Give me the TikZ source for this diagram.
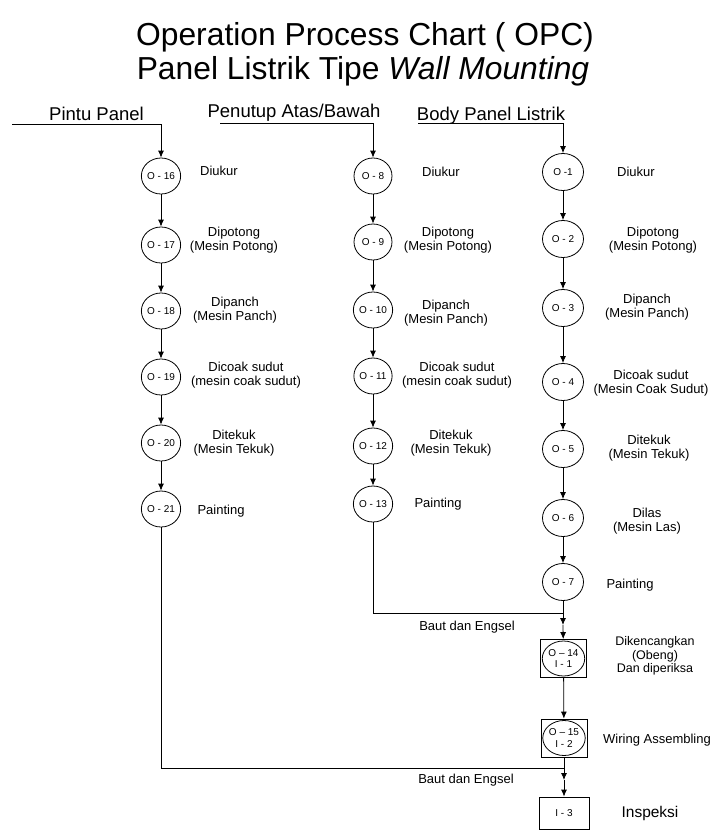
\documentclass[tikz,border=0pt]{standalone}
\usepackage{fontspec}
\setmainfont{Liberation Sans}
\usetikzlibrary{shapes.geometric,arrows.meta}
\tikzset{
  opA/.style={ellipse, draw, line width=0.8pt, minimum width=38pt, minimum height=36pt, inner sep=0pt, font=\fontsize{10}{11}\selectfont},
  opC/.style={ellipse, draw, line width=0.8pt, minimum width=41pt, minimum height=37pt, inner sep=0pt, font=\fontsize{10}{11}\selectfont},
  lbl/.style={align=center, inner sep=0pt, font=\fontsize{13}{14}\selectfont},
  hdr/.style={anchor=base, inner sep=0pt, font=\fontsize{18.5}{20}\selectfont},
  ttl/.style={anchor=base, inner sep=0pt, font=\fontsize{31.8}{34}\selectfont},
  arr/.style={line width=0.8pt, -{Latex[length=7pt,width=6pt]}},
  ln/.style={line width=0.8pt},
  sq/.style={rectangle, draw, line width=0.8pt, minimum width=46pt, minimum height=38pt, inner sep=0pt},
  inell/.style={ellipse, draw, line width=0.8pt, minimum width=41pt, minimum height=35pt, inner sep=0pt, align=center, font=\fontsize{10}{12}\selectfont}
}
\begin{document}
\begin{tikzpicture}[x=1pt,y=-1pt]
\useasboundingbox (0,0) rectangle (711,830);
% title
\node[ttl] (t1) at (365,45) {Operation Process Chart ( OPC)};
\node[ttl] (t2) at (363,79) {Panel Listrik Tipe \textit{Wall Mounting}};
% headers
\node[hdr] (h1) at (96.5,120) {Pintu Panel};
\node[hdr] (h2) at (294,117) {Penutup Atas/Bawah};
\node[hdr] (h3) at (491,120.5) {Body Panel Listrik};
\coordinate (s1) at (12,124);
\coordinate (s2) at (220,123);
\coordinate (s3) at (418,123);
% column 1
\node[opA] (o16) at (161,176) {O - 16};
\node[opA] (o17) at (161,245) {O - 17};
\node[opA] (o18) at (161,311) {O - 18};
\node[opA] (o19) at (161,377) {O - 19};
\node[opA] (o20) at (161,443) {O - 20};
\node[opA] (o21) at (161,509) {O - 21};
\node[lbl] (l16) at (219,171) {Diukur};
\node[lbl] (l17) at (234,240) {Dipotong\\(Mesin Potong)};
\node[lbl] (l18) at (235,310) {Dipanch\\(Mesin Panch)};
\node[lbl] (l19) at (246,375) {Dicoak sudut\\(mesin coak sudut)};
\node[lbl] (l20) at (234,443) {Ditekuk\\(Mesin Tekuk)};
\node[lbl] (l21) at (221,511) {Painting};
% column 2
\node[opA] (o8) at (373,176) {O - 8};
\node[opA] (o9) at (373,242) {O - 9};
\node[opA] (o10) at (373,310) {O - 10};
\node[opA] (o11) at (373,376) {O - 11};
\node[opA] (o12) at (373,446) {O - 12};
\node[opA] (o13) at (373,504) {O - 13};
\node[lbl] (l8) at (441,172) {Diukur};
\node[lbl] (l9) at (448,240) {Dipotong\\(Mesin Potong)};
\node[lbl] (l10) at (446,313) {Dipanch\\(Mesin Panch)};
\node[lbl] (l11) at (457,375) {Dicoak sudut\\(mesin coak sudut)};
\node[lbl] (l12) at (451,443) {Ditekuk\\(Mesin Tekuk)};
\node[lbl] (l13) at (438,504) {Painting};
% column 3
\node[opC] (o1) at (563,172) {O -1};
\node[opC] (o2) at (563,239) {O - 2};
\node[opC] (o3) at (563,308) {O - 3};
\node[opC] (o4) at (563,382) {O - 4};
\node[opC] (o5) at (563,449) {O - 5};
\node[opC] (o6) at (563,518) {O - 6};
\node[opC] (o7) at (563,582) {O - 7};
\node[lbl] (l1) at (636,172) {Diukur};
\node[lbl] (l2) at (653,240) {Dipotong\\(Mesin Potong)};
\node[lbl] (l3) at (647,307) {Dipanch\\(Mesin Panch)};
\node[lbl] (l4) at (651,383) {Dicoak sudut\\(Mesin Coak Sudut)};
\node[lbl] (l5) at (649,448) {Ditekuk\\(Mesin Tekuk)};
\node[lbl] (l6) at (647,521) {Dilas\\(Mesin Las)};
\node[lbl] (l7) at (630,585) {Painting};
% assembly
\node[sq] (b14) at (563.5,658.5) {};
\node[inell] (c14) at (b14.center) {O -- 14\\I - 1};
\node[lbl, font=\fontsize{12.5}{13.5}\selectfont] (l14) at (655,656) {Dikencangkan\\(Obeng)\\Dan diperiksa};
\node[sq] (b15) at (564,738) {};
\node[inell] (c15) at (b15.center) {O -- 15\\I - 2};
\node[lbl, anchor=west] (l15) at (603,740) {Wiring Assembling};
\node[sq, minimum width=50pt, minimum height=32pt, font=\fontsize{10}{11}\selectfont] (i3) at (564,813) {I - 3};
\node[lbl, font=\fontsize{15.5}{17}\selectfont] (li3) at (650,813) {Inspeksi};
\node[lbl] (bd1) at (467,627) {Baut dan Engsel};
\node[lbl] (bd2) at (466,780) {Baut dan Engsel};
\coordinate (j1) at (563,613);
\coordinate (m1) at (563,625);
\coordinate (j2) at (564,768);
\coordinate (m2) at (564,780);
% connectors
\draw[arr] (s1) -| (o16);
\draw[arr] (s2) -| (o8);
\draw[arr] (s3) -| (o1);
\draw[arr] (o16) -- (o17);
\draw[arr] (o17) -- (o18);
\draw[arr] (o18) -- (o19);
\draw[arr] (o19) -- (o20);
\draw[arr] (o20) -- (o21);
\draw[arr] (o8) -- (o9);
\draw[arr] (o9) -- (o10);
\draw[arr] (o10) -- (o11);
\draw[arr] (o11) -- (o12);
\draw[arr] (o12) -- (o13);
\draw[arr] (o1) -- (o2);
\draw[arr] (o2) -- (o3);
\draw[arr] (o3) -- (o4);
\draw[arr] (o4) -- (o5);
\draw[arr] (o5) -- (o6);
\draw[arr] (o6) -- (o7);
\draw[ln] (o13) |- (j1);
\draw[arr] (o7) -- (m1);
\draw[arr] (m1) -- (b14);
\draw[arr] (b14) -- (b15);
\draw[ln] (o21) |- (j2);
\draw[arr] (b15) -- (m2);
\draw[arr] (m2) -- (i3);
\end{tikzpicture}
\end{document}
